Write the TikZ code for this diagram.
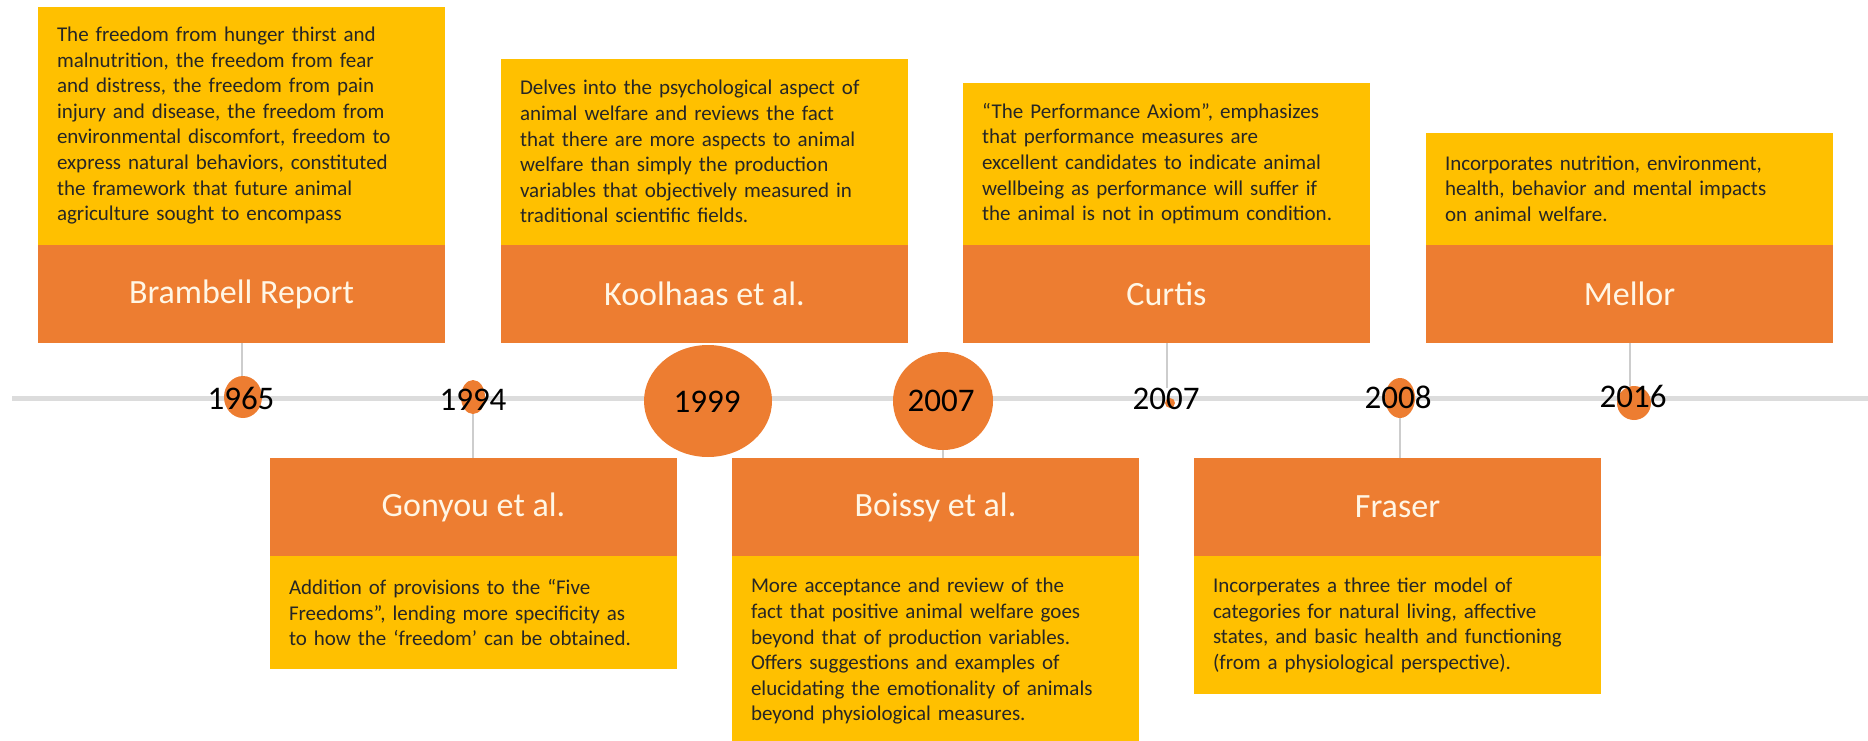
\documentclass[tikz,border=0pt]{standalone}
\usepackage{fontspec}
\setmainfont{Carlito}
\usetikzlibrary{positioning,shapes.geometric}
\definecolor{tlorange}{HTML}{ED7D31}
\definecolor{tlyellow}{HTML}{FFC000}
\definecolor{tlgray}{HTML}{DCDCDC}
\definecolor{stemgray}{HTML}{CDCDCD}
\definecolor{notetext}{HTML}{262626}
\definecolor{headtext}{HTML}{FFF6E5}
\tikzset{
	head/.style     = {fill=tlorange, rectangle, minimum width=407pt, minimum height=98pt, inner sep=0pt, text=headtext, font=\fontsize{34}{40}\selectfont},
	note/.style     = {fill=tlyellow, rectangle, text width=369pt, minimum width=407pt, inner xsep=19pt, inner ysep=0pt, align=left, text=notetext, font=\fontsize{21}{25.6}\selectfont},
	dot/.style      = {fill=tlorange, ellipse, inner sep=0pt},
	year/.style     = {inner sep=0pt, text=black, font=\fontsize{33}{40}\selectfont},
	stem/.style     = {draw=stemgray, line width=2pt},
	timeline/.style = {draw=tlgray, line width=5pt},
}

\begin{document}
\begin{tikzpicture}[x=1pt, y=-1pt]
		\useasboundingbox (0,0) rectangle (1868,741);

		% Draw the time axis
		\coordinate (tlstart) at (12,398);
		\coordinate (tlend) at (1868,398);
		\draw[timeline] (tlstart) -- (tlend);

		% Draw the events above the axis
		\node[head] (brambellhead) at (241.5,294) {Brambell Report};
		\node[note, minimum height=238pt, above=0pt of brambellhead] (brambellnote) {The freedom from hunger thirst and\\ malnutrition, the freedom from fear\\ and distress, the freedom from pain\\ injury and disease, the freedom from\\ environmental discomfort, freedom to\\ express natural behaviors, constituted\\ the framework that future animal\\ agriculture sought to encompass};

		\node[head] (koolhaashead) at (704.5,294) {Koolhaas et al.};
		\node[note, minimum height=186pt, above=0pt of koolhaashead] (koolhaasnote) {Delves into the psychological aspect of\\ animal welfare and reviews the fact\\ that there are more aspects to animal\\ welfare than simply the production\\ variables that objectively measured in\\ traditional scientific fields.};

		\node[head] (curtishead) at (1166.5,294) {Curtis};
		\node[note, minimum height=162pt, above=0pt of curtishead] (curtisnote) {“The Performance Axiom”, emphasizes\\ that performance measures are\\ excellent candidates to indicate animal\\ wellbeing as performance will suffer if\\ the animal is not in optimum condition.};

		\node[head] (mellorhead) at (1629.5,294) {Mellor};
		\node[note, minimum height=112pt, above=0pt of mellorhead] (mellornote) {Incorporates nutrition, environment,\\ health, behavior and mental impacts\\ on animal welfare.};

		% Draw the events below the axis
		\node[head] (gonyouhead) at (473.5,507) {Gonyou et al.};
		\node[note, minimum height=113pt, below=0pt of gonyouhead] (gonyounote) {Addition of provisions to the “Five\\ Freedoms”, lending more specificity as\\ to how the ‘freedom’ can be obtained.};

		\node[head] (boissyhead) at (935.5,507) {Boissy et al.};
		\node[note, minimum height=190pt, below=0pt of boissyhead] (boissynote) {More acceptance and review of the\\ fact that positive animal welfare goes\\ beyond that of production variables.\\ Offers suggestions and examples of\\ elucidating the emotionality of animals\\ beyond physiological measures.};

		\node[head] (fraserhead) at (1397.5,507) {Fraser};
		\node[note, minimum height=138pt, below=0pt of fraserhead] (frasernote) {Incorperates a three tier model of\\ categories for natural living, affective\\ states, and basic health and functioning\\ (from a physiological perspective).};

		% Dots on the axis
		\node[dot, minimum width=38pt, minimum height=42pt] (d1965) at (243,397) {};
		\node[dot, minimum width=24pt, minimum height=34pt] (d1994) at (473,397) {};
		\node[dot, minimum width=128pt, minimum height=112pt] (d1999) at (708,401) {};
		\node[dot, minimum width=100pt, minimum height=98pt] (d2007) at (943,401) {};
		\node[dot, minimum width=10pt, minimum height=10pt] (d2007b) at (1170,403) {};
		\node[dot, minimum width=30pt, minimum height=40pt] (d2008) at (1400,398) {};
		\node[dot, minimum width=34pt, minimum height=34pt] (d2016) at (1634,403) {};

		% Years
		\node[year] (y1965) at (241,398) {1965};
		\node[year] (y1994) at (473,400) {1994};
		\node[year] (y1999) at (707,402) {1999};
		\node[year] (y2007) at (941,401) {2007};
		\node[year] (y2007b) at (1166,399) {2007};
		\node[year] (y2008) at (1398,397) {2008};
		\node[year] (y2016) at (1633,396) {2016};

		% Connect boxes and dots
		\draw[stem] (brambellhead.south) -- (brambellhead.south |- d1965.north);
		\draw[stem] (curtishead.south) -- (curtishead.south |- y2007b.north);
		\draw[stem] (mellorhead.south) -- (mellorhead.south |- d2016.north);
		\draw[stem] (d1994.south) -- (d1994.south |- gonyouhead.north);
		\draw[stem] (d2007.south) -- (d2007.south |- boissyhead.north);
		\draw[stem] (d2008.south) -- (d2008.south |- fraserhead.north);
\end{tikzpicture}
\end{document}
